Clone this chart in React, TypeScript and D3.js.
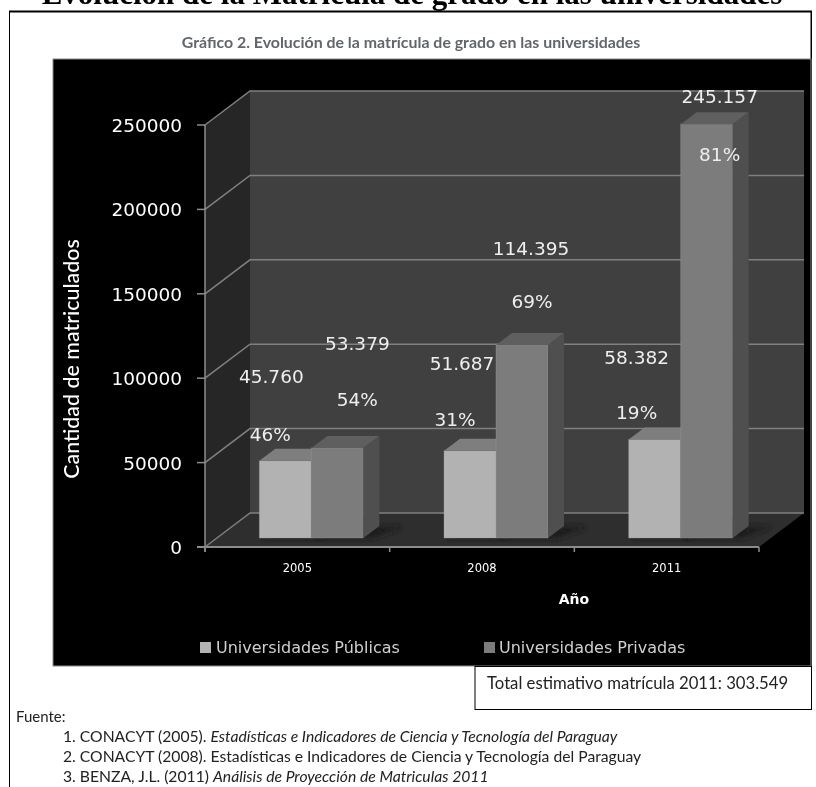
import * as d3 from "d3"

const years = ["2005", "2008", "2011"]
const publicas = [45760, 51687, 58382]
const privadas = [53379, 114395, 245157]
const publicasLabel = ["45.760", "51.687", "58.382"]
const privadasLabel = ["53.379", "114.395", "245.157"]
const publicasPct = ["46%", "31%", "19%"]
const privadasPct = ["54%", "69%", "81%"]
const yTicks = [0, 50000, 100000, 150000, 200000, 250000]

const sources = [
  { lead: "1. CONACYT (2005). ", rest: "Estadísticas e Indicadores de Ciencia y Tecnología del Paraguay", italic: true },
  { lead: "2. CONACYT (2008). Estadísticas e Indicadores de Ciencia y Tecnología del Paraguay", rest: "", italic: false },
  { lead: "3. BENZA, J.L. (2011) ", rest: "Análisis de Proyección de Matriculas 2011", italic: true },
]

const sans = "'DejaVu Sans', Verdana, sans-serif"
const calibri = "Lato, 'Open Sans', sans-serif"

// 3D projection of the plot box
const frontLeft = 205
const frontRight = 759
const frontBase = 547
const frontTop = 125
const depthX = 45
const depthY = -34

const x = d3.scaleBand<string>().domain(years).range([frontLeft, frontRight])
const y = d3.scaleLinear().domain([0, 250000]).range([frontBase, frontTop])

// bars stand in the middle of the floor, with their own small depth
const barWidth = 52
const barBase = 538
const barShift = 14
const barDepthX = 16
const barDepthY = -12
const barY = (v: number) => y(v) - (frontBase - barBase)

const poly = d3.line<[number, number]>()

function Bar({ left, value, front, top, side }: { left: number; value: number; front: string; top: string; side: string }) {
  const t = barY(value)
  const r = left + barWidth
  return (
    <g>
      <path
        d={poly([[left + 4, barBase], [r + 8, barBase], [r + barDepthX + 22, barBase - 11], [left + barDepthX + 10, barBase - 11]]) + "Z"}
        fill="#1f1f1f"
        filter="url(#shadow)"
      />
      <rect x={left} y={t} width={barWidth} height={barBase - t} fill={front} stroke="#9a9a9a" strokeOpacity={0.35} />
      <path d={poly([[left, t], [r, t], [r + barDepthX, t + barDepthY], [left + barDepthX, t + barDepthY]]) + "Z"} fill={top} />
      <path d={poly([[r, t], [r + barDepthX, t + barDepthY], [r + barDepthX, barBase + barDepthY], [r, barBase]]) + "Z"} fill={side} />
    </g>
  )
}

export default function App() {
  const backLeft = frontLeft + depthX
  const backRight = frontRight + depthX
  const backBase = frontBase + depthY
  const backTop = frontTop + depthY
  const ticksX = [...years.map((d) => x(d) as number), frontRight]

  const labels = (i: number) => {
    const pubX = (x(years[i]) as number) + x.bandwidth() / 2 + barShift - barWidth
    const privX = pubX + barWidth
    return [
      { text: publicasLabel[i], x: pubX + [-14, -8, -18][i] + barWidth / 2, y: barY(publicas[i]) + [-78, -81, -75][i] },
      { text: publicasPct[i], x: pubX + [-15, -15, -18][i] + barWidth / 2, y: barY(publicas[i]) + [-20, -25, -20][i] },
      { text: privadasLabel[i], x: privX + [20, 9, 13][i] + barWidth / 2, y: barY(privadas[i]) + [-98, -90, -21][i] },
      { text: privadasPct[i], x: privX + [20, 10, 13][i] + barWidth / 2, y: barY(privadas[i]) + [-42, -37, 37][i] },
    ]
  }

  return (
    <svg width={816} height={787} style={{ position: "absolute", left: 0, top: 0, display: "block", background: "#fff" }}>
      <defs>
        <filter id="soft" x="0" y="0" width="100%" height="100%">
          <feGaussianBlur stdDeviation={0.45} />
        </filter>
        <filter id="shadow" x="-20%" y="-50%" width="140%" height="200%">
          <feGaussianBlur stdDeviation={2.5} />
        </filter>
      </defs>

      <g filter="url(#soft)">
        <text x={412} y={4} textAnchor="middle" fontFamily="'Liberation Serif', serif" fontWeight="bold" fontSize={31}>
          Evolución de la Matrícula de grado en las universidades
        </text>
        <path d="M9,787V11.5H811.5V710" fill="none" stroke="#000" strokeWidth={2} />

        <text x={411} y={48} textAnchor="middle" fontFamily={calibri} fontWeight="bold" fontSize={15.9} fill="#62666c">
          Gráfico 2. Evolución de la matrícula de grado en las universidades
        </text>

        <rect x={53} y={59} width={758} height={607} fill="#000" stroke="#8a8a8a" strokeWidth={1} />

        {/* walls and floor */}
        <rect x={backLeft} y={backTop} width={backRight - backLeft} height={backBase - backTop} fill="#404040" />
        <path d={poly([[frontLeft, frontTop], [backLeft, backTop], [backLeft, backBase], [frontLeft, frontBase]]) + "Z"} fill="#262626" />
        <path d={poly([[frontLeft, frontBase], [frontRight, frontBase], [backRight, backBase], [backLeft, backBase]]) + "Z"} fill="#2d2d2d" />

        {yTicks.map((t) => (
          <path
            key={t}
            d={poly([[frontLeft, y(t)], [backLeft, y(t) + depthY], [backRight, y(t) + depthY]]) as string}
            fill="none"
            stroke="#808080"
            strokeWidth={1.5}
          />
        ))}
        <path d={poly([[frontLeft, frontTop], [frontLeft, frontBase + 5]]) as string} stroke="#8c8c8c" strokeWidth={1.5} />
        <path d={poly([[frontLeft - 8, frontBase], [frontRight, frontBase]]) as string} stroke="#8c8c8c" strokeWidth={2} />

        {yTicks.map((t) => (
          <g key={t}>
            <path d={`M${frontLeft - 8},${y(t)}H${frontLeft}`} stroke="#8c8c8c" strokeWidth={1.5} />
            <text x={frontLeft - 23} y={y(t) + 7} textAnchor="end" fill="#fff" fontFamily={sans} fontSize={18.5}>
              {t}
            </text>
          </g>
        ))}
        {ticksX.map((t) => (
          <path key={t} d={`M${t},${frontBase}v5`} stroke="#8c8c8c" strokeWidth={1.5} />
        ))}

        {years.map((yr, i) => {
          const cx = (x(yr) as number) + x.bandwidth() / 2 + barShift
          return (
            <g key={yr}>
              <Bar left={cx - barWidth} value={publicas[i]} front="#b2b2b2" top="#7e7e7e" side="#626262" />
              <Bar left={cx} value={privadas[i]} front="#7c7c7c" top="#5f5f5f" side="#505050" />
              <text x={cx - barShift} y={572} textAnchor="middle" fill="#fff" fontFamily={sans} fontSize={11.5}>
                {yr}
              </text>
            </g>
          )
        })}

        {years.flatMap((_, i) => labels(i)).map((l) => (
          <text key={l.text} x={l.x} y={l.y} textAnchor="middle" fill="#eeeeee" fontFamily={sans} fontSize={18.5}>
            {l.text}
          </text>
        ))}

        <text x={0} y={0} transform="translate(79,359) rotate(-90)" textAnchor="middle" fill="#fff" fontFamily={calibri} fontWeight={500} fontSize={21.4}>
          Cantidad de matriculados
        </text>
        <text x={574} y={604} textAnchor="middle" fill="#fff" fontFamily={sans} fontWeight="bold" fontSize={14}>
          Año
        </text>

        {/* legend */}
        <rect x={200} y={642} width={11} height={11} fill="#b2b2b2" />
        <text x={216} y={653} fill="#d0d0d0" fontFamily={sans} fontSize={16}>
          Universidades Públicas
        </text>
        <rect x={484} y={642} width={11} height={11} fill="#7c7c7c" />
        <text x={499} y={653} fill="#d0d0d0" fontFamily={sans} fontSize={16}>
          Universidades Privadas
        </text>

        <rect x={475} y={666.5} width={336.5} height={43} fill="#fff" stroke="#000" />
        <text x={487} y={689} fontFamily={calibri} fontSize={16.7} fill="#222">
          Total estimativo matrícula 2011: 303.549
        </text>

        <text x={16} y={722} fontFamily={calibri} fontSize={15} fill="#222">
          Fuente:
        </text>
        {sources.map((s, i) => (
          <text key={i} x={63} y={[742, 762, 782][i]} fontFamily={calibri} fontSize={15.7} fill="#222">
            {s.lead}
            {s.rest && <tspan fontStyle={s.italic ? "italic" : "normal"}>{s.rest}</tspan>}
          </text>
        ))}
      </g>
    </svg>
  )
}
